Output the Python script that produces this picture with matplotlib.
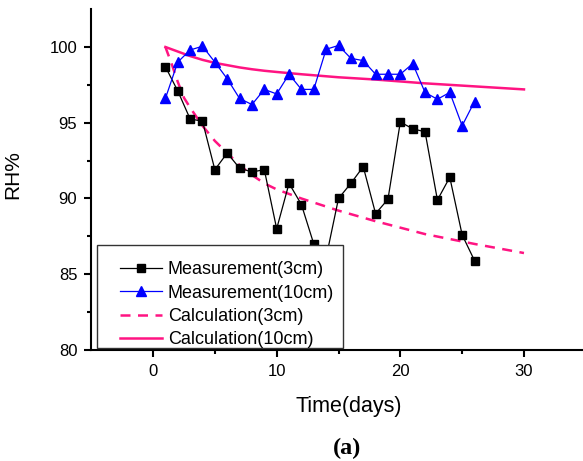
import matplotlib
matplotlib.use("Agg")
import matplotlib.pyplot as plt
from matplotlib.patches import Rectangle

plt.rcParams['font.family'] = ['Liberation Sans', 'DejaVu Sans']

days = list(range(1, 27))
meas_3cm = [98.7, 97.1, 95.25, 95.1, 91.9, 93.0, 92.0, 91.75, 91.9, 88.0,
            91.0, 89.6, 87.0, 86.1, 90.0, 91.0, 92.1, 89.0, 89.95, 95.05,
            94.6, 94.4, 89.9, 91.4, 87.6, 85.9]
meas_10cm = [96.6, 99.0, 99.8, 100.05, 99.0, 97.9, 96.6, 96.2, 97.2, 96.9,
             98.2, 97.2, 97.2, 99.85, 100.1, 99.25, 99.1, 98.2, 98.2, 98.2,
             98.9, 97.0, 96.55, 97.0, 94.8, 96.4]

calc_days = [1, 1.5, 2, 2.5, 3, 4, 5, 6, 7, 8, 9, 10, 12, 15, 18, 22, 26, 30]
calc_3cm = [100.0, 98.9, 97.7, 96.65, 96.0, 94.8, 93.8, 93.0, 92.2, 91.55, 91.0, 90.6,
            90.0, 89.2, 88.5, 87.65, 87.0, 86.4]
calc_10cm = [100.0, 99.85, 99.7, 99.55, 99.4, 99.15, 98.95, 98.8, 98.65, 98.53, 98.43, 98.35,
             98.2, 98.0, 97.85, 97.6, 97.4, 97.2]

labels = ['Measurement(3cm)', 'Measurement(10cm)', 'Calculation(3cm)', 'Calculation(10cm)']
pink = '#FF1482'

W, H = 583, 461
fig = plt.figure(figsize=(W / 100, H / 100), dpi=100)
ax = fig.add_axes([91.2 / W, 111 / H, 494.6 / W, 340.9 / H])

l1, = ax.plot(days, meas_3cm, color='black', lw=0.9, marker='s', ms=5.6, mfc='black', mec='black', zorder=3)
l2, = ax.plot(days, meas_10cm, color='#0000FF', lw=0.9, marker='^', ms=7, mfc='#0000FF', mec='#0000FF', zorder=3)
l3, = ax.plot(calc_days, calc_3cm, color=pink, lw=1.8, ls=(0, (4, 3)), zorder=2)
l4, = ax.plot(calc_days, calc_10cm, color=pink, lw=1.8, zorder=2)

ax.set_xlim(-5, 35)
ax.set_ylim(80, 102.5)
ax.set_xticks([0, 10, 20, 30])
ax.set_xticks([5, 15, 25], minor=True)
ax.set_yticks([80, 85, 90, 95, 100])
ax.set_yticks([82.5, 87.5, 92.5, 97.5], minor=True)

for s in ['top', 'right']:
    ax.spines[s].set_visible(False)
for s in ['left', 'bottom']:
    ax.spines[s].set_linewidth(1.5)
ax.tick_params(which='major', direction='out', length=5, width=1.5, labelsize=12, pad=5)
ax.tick_params(which='minor', direction='out', length=3, width=1.5)

ax.set_xlabel('Time(days)', fontsize=15.5)
ax.xaxis.set_label_coords((348.5 - 91.2) / 494.6, -(396 - 350) / 340.9)
ax.set_ylabel('RH%', fontsize=15)
ax.yaxis.set_label_coords(-(91.2 - 22) / 494.6, (350 - 175) / 340.9)

# legend frame
x0 = (97 - 91.2) / 494.6
y0 = (350 - 348) / 340.9
w = (343 - 97) / 494.6
h = (348 - 245) / 340.9
ax.add_patch(Rectangle((x0, y0), w, h, transform=ax.transAxes, facecolor='white',
                       edgecolor='#333333', lw=1.0, zorder=4.5, clip_on=False))
leg = ax.legend([l1, l2, l3, l4], labels, loc='upper left', frameon=False,
                bbox_to_anchor=((120 - 91.2) / 494.6, (350 - 261) / 340.9),
                borderaxespad=0, borderpad=0, fontsize=13, handlelength=2.35,
                handletextpad=0.3, labelspacing=0.36, numpoints=1)
leg.set_zorder(5)

fig.text(347 / W, 1 - 448 / H, '(a)', fontsize=17.5, fontweight='bold',
         family='Liberation Serif', ha='center', va='center')

fig.savefig('out.png', dpi=100)
